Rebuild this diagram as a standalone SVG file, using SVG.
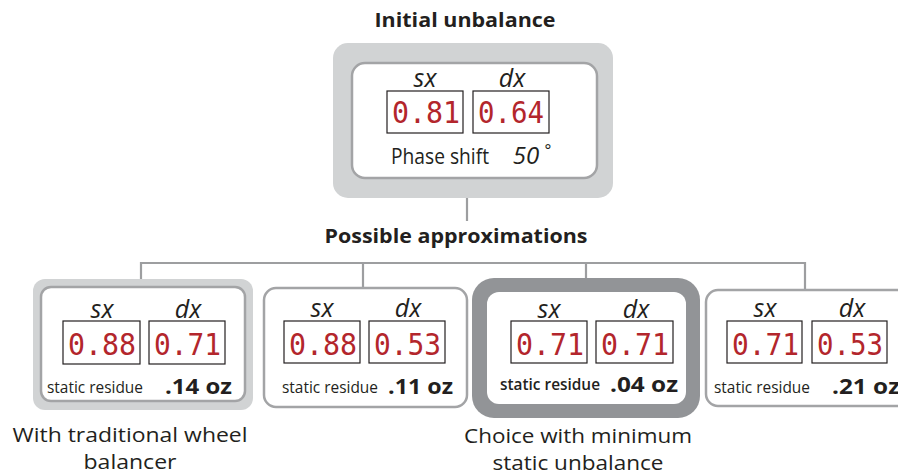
<svg xmlns="http://www.w3.org/2000/svg" width="898" height="475" viewBox="0 0 898 475">
<style>
.bg{fill:#ffffff}
.outerL{fill:#d1d3d4}
.outerD{fill:#929497}
.inner{fill:#ffffff;stroke:#a3a4a6;stroke-width:2.5}
.innerN{fill:#ffffff}
.disp{fill:#ffffff;stroke:#231f20;stroke-width:1.2}
.dig{font-family:"DejaVu Sans Mono","Liberation Mono",monospace;font-size:31px;fill:#b3262c}
.lab{font-family:"Open Sans","Noto Sans",sans-serif;font-style:italic;font-weight:500;font-size:25px;fill:#231f20;text-anchor:middle}
.res{font-family:"Open Sans","Noto Sans",sans-serif;font-size:16px;fill:#231f20}
.resB{font-family:"Open Sans","Noto Sans",sans-serif;font-size:16px;font-weight:600;fill:#231f20}
.oz{font-family:"Open Sans","Noto Sans",sans-serif;font-size:22px;font-weight:700;fill:#231f20}
.title{font-family:"Open Sans","Noto Sans",sans-serif;font-size:20px;font-weight:700;fill:#231f20;text-anchor:middle}
.cap{font-family:"Open Sans","Noto Sans",sans-serif;font-size:20px;fill:#231f20;text-anchor:middle}
.conn{fill:none;stroke:#9d9ea0;stroke-width:2.2}
</style>
<rect class="bg" x="0" y="0" width="898" height="475"/>

<g id="connectors">
<path class="conn" d="M467,198 V221"/>
<path class="conn" d="M141,280 V263 H805 V290 M363,263 V288 M586,263 V278"/>
</g>

<g id="title-initial">
<text class="title" x="465" y="27" textLength="181" lengthAdjust="spacingAndGlyphs">Initial unbalance</text>
</g>

<g id="node-initial">
<rect class="outerL" x="333" y="43" width="280" height="155" rx="15"/>
<rect class="inner" x="352" y="63" width="245" height="115" rx="13"/>
<text class="lab" x="425" y="87">sx</text>
<text class="lab" x="512" y="87">dx</text>
<rect class="disp" x="387" y="91" width="76" height="42"/>
<rect class="disp" x="473" y="91" width="76" height="42"/>
<text class="dig" x="392" y="123" textLength="68" lengthAdjust="spacingAndGlyphs">0.81</text>
<text class="dig" x="478" y="123" textLength="66" lengthAdjust="spacingAndGlyphs">0.64</text>
<text class="cap" x="440" y="164" style="font-size:21px" textLength="98" lengthAdjust="spacingAndGlyphs">Phase shift</text>
<text class="lab" x="526" y="164" style="font-size:24px">50</text>
<text class="lab" x="548" y="156" style="font-size:16px;font-style:normal">°</text>
</g>

<g id="title-possible">
<text class="title" x="456" y="243" textLength="263" lengthAdjust="spacingAndGlyphs">Possible approximations</text>
</g>

<g id="node-traditional">
<rect class="outerL" x="33" y="279" width="220" height="131" rx="12"/>
<rect class="inner" x="41" y="287" width="204" height="114" rx="10"/>
<text class="lab" x="102" y="318">sx</text>
<text class="lab" x="188" y="318">dx</text>
<rect class="disp" x="63" y="321" width="77" height="43"/>
<rect class="disp" x="149" y="321" width="76" height="43"/>
<text class="dig" x="68" y="355" textLength="68" lengthAdjust="spacingAndGlyphs">0.88</text>
<text class="dig" x="154" y="355" textLength="67" lengthAdjust="spacingAndGlyphs">0.71</text>
<text class="res" x="47" y="393" textLength="96" lengthAdjust="spacingAndGlyphs">static residue</text>
<text class="oz" x="165" y="394" textLength="67" lengthAdjust="spacingAndGlyphs">.14 oz</text>
</g>

<g id="node-option2">
<rect class="inner" x="264" y="288" width="203" height="119" rx="12"/>
<text class="lab" x="322" y="317">sx</text>
<text class="lab" x="408" y="317">dx</text>
<rect class="disp" x="284" y="321" width="76" height="42"/>
<rect class="disp" x="369" y="321" width="76" height="42"/>
<text class="dig" x="289" y="355" textLength="68" lengthAdjust="spacingAndGlyphs">0.88</text>
<text class="dig" x="374" y="355" textLength="67" lengthAdjust="spacingAndGlyphs">0.53</text>
<text class="res" x="282" y="393" textLength="96" lengthAdjust="spacingAndGlyphs">static residue</text>
<text class="oz" x="388" y="394" textLength="65" lengthAdjust="spacingAndGlyphs">.11 oz</text>
</g>

<g id="node-minimum">
<rect class="outerD" x="472" y="278" width="228" height="140" rx="22"/>
<rect class="innerN" x="487" y="292" width="199" height="112" rx="12"/>
<text class="lab" x="549" y="318">sx</text>
<text class="lab" x="636" y="318">dx</text>
<rect class="disp" x="511" y="321" width="76" height="42"/>
<rect class="disp" x="596" y="321" width="77" height="42"/>
<text class="dig" x="516" y="355" textLength="68" lengthAdjust="spacingAndGlyphs">0.71</text>
<text class="dig" x="601" y="355" textLength="68" lengthAdjust="spacingAndGlyphs">0.71</text>
<text class="resB" x="500" y="390" textLength="100" lengthAdjust="spacingAndGlyphs">static residue</text>
<text class="oz" x="610" y="392" textLength="68" lengthAdjust="spacingAndGlyphs">.04 oz</text>
</g>

<g id="node-option4">
<rect class="inner" x="706" y="290" width="210" height="116" rx="12"/>
<text class="lab" x="765" y="317">sx</text>
<text class="lab" x="852" y="317">dx</text>
<rect class="disp" x="727" y="321" width="75" height="42"/>
<rect class="disp" x="812" y="321" width="75" height="42"/>
<text class="dig" x="732" y="355" textLength="67" lengthAdjust="spacingAndGlyphs">0.71</text>
<text class="dig" x="817" y="355" textLength="66" lengthAdjust="spacingAndGlyphs">0.53</text>
<text class="res" x="714" y="393" textLength="96" lengthAdjust="spacingAndGlyphs">static residue</text>
<text class="oz" x="832" y="394" textLength="68" lengthAdjust="spacingAndGlyphs">.21 oz</text>
</g>

<g id="caption-traditional">
<text class="cap" x="130" y="442" textLength="235" lengthAdjust="spacingAndGlyphs">With traditional wheel</text>
<text class="cap" x="130" y="469" textLength="93" lengthAdjust="spacingAndGlyphs">balancer</text>
</g>

<g id="caption-minimum">
<text class="cap" x="578" y="443" textLength="228" lengthAdjust="spacingAndGlyphs">Choice with minimum</text>
<text class="cap" x="578" y="470" textLength="171" lengthAdjust="spacingAndGlyphs">static unbalance</text>
</g>
</svg>
